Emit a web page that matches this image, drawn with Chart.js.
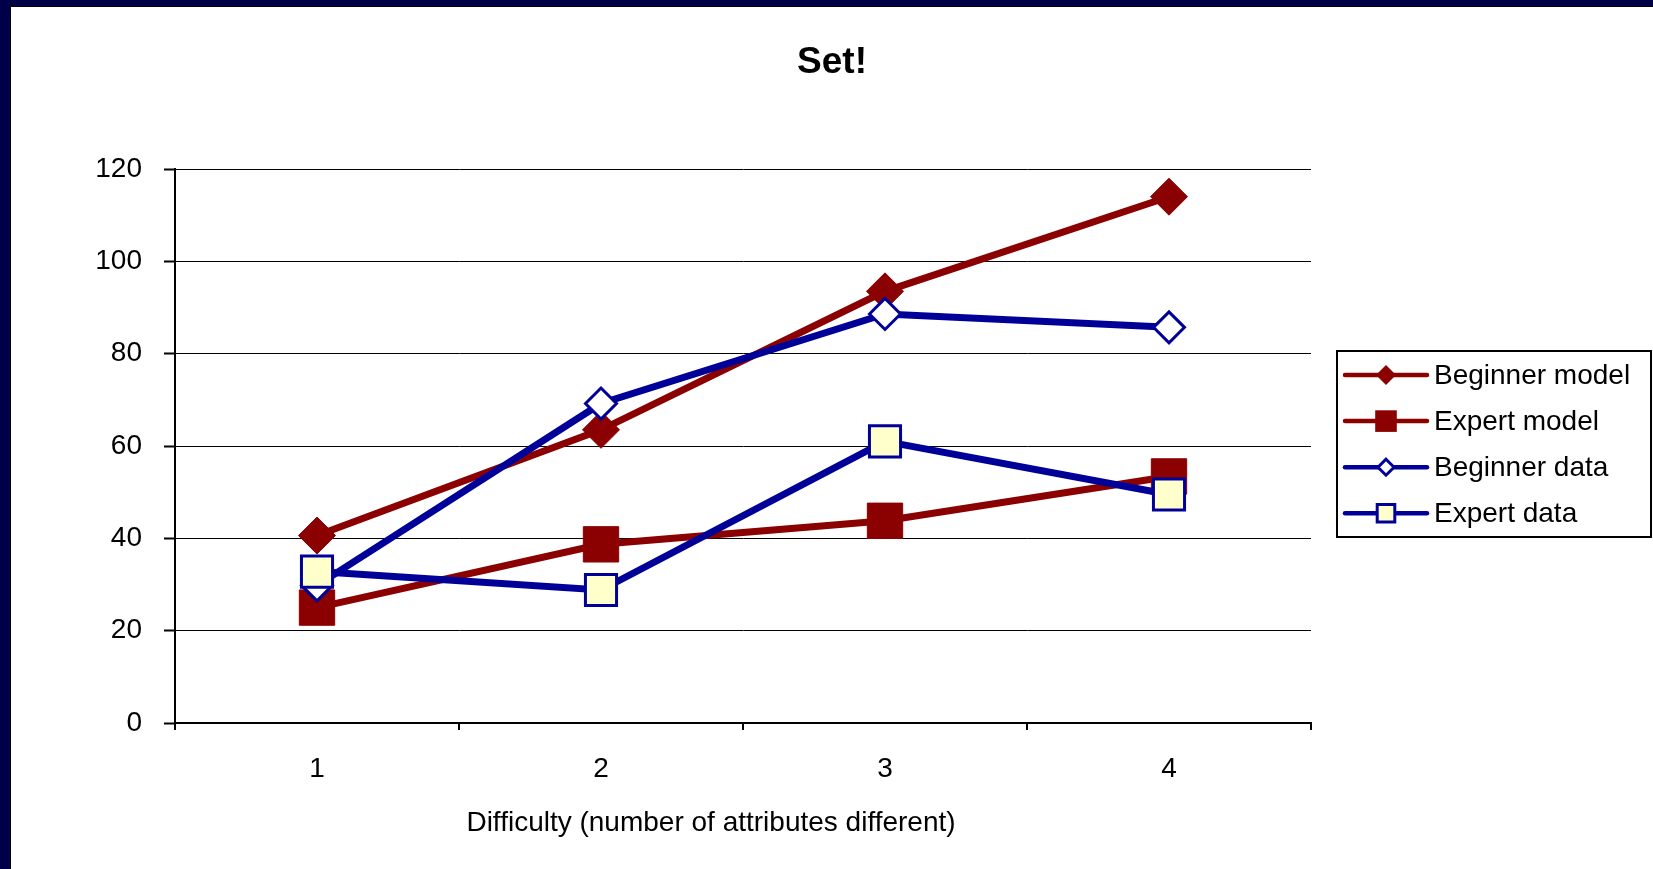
<!DOCTYPE html>
<html>
<head>
<meta charset="utf-8">
<script src="https://cdn.jsdelivr.net/npm/chart.js@4.4.1/dist/chart.umd.min.js"></script>
<style>
  html, body { margin: 0; padding: 0; background: #000048; overflow: hidden; }
  #frame {
    position: absolute; left: 10px; top: 6px;
    width: 1643px; height: 863px;
    border-left: 1px solid #000; border-top: 1px solid #000;
    background: #fff;
  }
  #setChart { display: block; }
</style>
</head>
<body>
<div id="frame"><canvas id="setChart" width="1642" height="862"></canvas></div>
<script>
// values
const categories = ['1', '2', '3', '4'];
const beginnerModel = [40.6, 63.5, 93.5, 114.0];
const expertModel   = [25.0, 38.7, 43.8, 53.4];
const beginnerData  = [29.8, 69.2, 88.6, 85.7];
const expertData    = [32.8, 28.8, 61.0, 49.5];
const yMin = 0, yMax = 120, yStep = 20;
const xTitle = 'Difficulty (number of attributes different)';

const RED = '#8B0000';
const BLUE = '#000099';
const FONT = "'Liberation Sans', Arial, sans-serif";

Chart.defaults.font.family = FONT;
Chart.defaults.color = '#000';

// legend with a frame and the x title (sits a bit left of centre in the original)
const boxLegend = {
    id: 'boxLegend',
    afterDraw(chart) {
        const ctx = chart.ctx;
        const x0 = 1326, y0 = 344, w = 314, h = 186;
        const marks = [
            { shape: 'diamond', half: 10, bw: 0 },
            { shape: 'square', half: 10.8, bw: 0 },
            { shape: 'diamond', half: 8, bw: 3 },
            { shape: 'square', half: 8.8, bw: 3 }
        ];
        ctx.save();

        ctx.fillStyle = '#000';
        ctx.font = '28px ' + FONT;
        ctx.textAlign = 'center';
        ctx.textBaseline = 'middle';
        ctx.fillText(xTitle, 700, 816);

        ctx.lineWidth = 2;
        ctx.strokeStyle = '#000';
        ctx.strokeRect(x0, y0, w, h);

        chart.data.datasets.forEach((ds, i) => {
            const y = y0 + 24 + i * 46.1;
            const m = marks[i];
            ctx.beginPath();
            ctx.lineCap = 'round';
            ctx.lineWidth = 4.5;
            ctx.strokeStyle = ds.borderColor;
            ctx.moveTo(1334, y);
            ctx.lineTo(1416, y);
            ctx.stroke();

            const cx = 1375;
            ctx.beginPath();
            if (m.shape === 'diamond') {
                ctx.moveTo(cx, y - m.half);
                ctx.lineTo(cx + m.half, y);
                ctx.lineTo(cx, y + m.half);
                ctx.lineTo(cx - m.half, y);
                ctx.closePath();
            } else {
                ctx.rect(cx - m.half, y - m.half, m.half * 2, m.half * 2);
            }
            ctx.fillStyle = ds.pointBackgroundColor;
            ctx.fill();
            if (m.bw) {
                ctx.lineWidth = m.bw;
                ctx.lineJoin = 'miter';
                ctx.strokeStyle = ds.pointBorderColor;
                ctx.stroke();
            }

            ctx.fillStyle = '#000';
            ctx.font = '28px ' + FONT;
            ctx.textAlign = 'left';
            ctx.textBaseline = 'middle';
            ctx.fillText(ds.label, 1423, y + 1);
        });
        ctx.restore();
    }
};

const ctx = document.getElementById('setChart').getContext('2d');

const setChart = new Chart(ctx,
{
    type: 'line',
    plugins: [boxLegend],
    data:
    {
        labels: categories,
        datasets:
        [
            {
                label: 'Beginner model',
                data: beginnerModel,
                order: 4,
                borderColor: RED,
                borderWidth: 7,
                pointStyle: 'rectRot',
                pointRadius: 18.5,
                pointHoverRadius: 18.5,
                pointBackgroundColor: RED,
                pointBorderColor: RED,
                pointBorderWidth: 1
            },
            {
                label: 'Expert model',
                data: expertModel,
                order: 3,
                borderColor: RED,
                borderWidth: 7,
                pointStyle: 'rect',
                pointRadius: 25,
                pointHoverRadius: 25,
                pointBackgroundColor: RED,
                pointBorderColor: RED,
                pointBorderWidth: 1
            },
            {
                label: 'Beginner data',
                data: beginnerData,
                order: 2,
                borderColor: BLUE,
                borderWidth: 7,
                pointStyle: 'rectRot',
                pointRadius: 15.5,
                pointHoverRadius: 15.5,
                pointBackgroundColor: '#fff',
                pointBorderColor: BLUE,
                pointBorderWidth: 3
            },
            {
                label: 'Expert data',
                data: expertData,
                order: 1,
                borderColor: BLUE,
                borderWidth: 7,
                pointStyle: 'rect',
                pointRadius: 22,
                pointHoverRadius: 22,
                pointBackgroundColor: '#FFFFCC',
                pointBorderColor: BLUE,
                pointBorderWidth: 3
            }
        ]
    },
    options:
    {
        responsive: false,
        animation: false,
        layout:
        {
            padding: 0
        },
        scales:
        {
            x:
            {
                offset: true,
                grid:
                {
                    offset: true,
                    drawOnChartArea: false,
                    drawTicks: true,
                    tickLength: 7,
                    lineWidth: 2,
                    color: '#000'
                },
                border: { display: true, width: 2, color: '#000' },
                ticks:
                {
                    color: '#000',
                    padding: 22,
                    font: { size: 28 }
                },
                afterFit: (scale) => { scale.height = 146; }
            },
            y:
            {
                min: yMin,
                max: yMax,
                grid:
                {
                    color: '#000',
                    lineWidth: 1,
                    tickWidth: 2,
                    tickLength: 11,
                    drawTicks: true
                },
                border: { display: true, width: 2, color: '#000' },
                ticks:
                {
                    stepSize: yStep,
                    color: '#000',
                    padding: 22,
                    font: { size: 28 }
                },
                afterFit: (scale) => { scale.width = 164; }
            },
            // empty axis on the right that keeps room for the legend box
            side:
            {
                type: 'linear',
                position: 'right',
                min: 0,
                max: 1,
                grid: { display: false },
                border: { display: false },
                ticks: { display: false },
                afterFit: (scale) => { scale.width = 342; }
            }
        },
        plugins:
        {
            legend: { display: false },
            tooltip: { enabled: false },
            title:
            {
                display: true,
                text: 'Set!',
                color: '#000',
                font: { size: 37, weight: 'bold' },
                padding: { top: 34, bottom: 83.6 }
            }
        }
    }
});
</script>
</body>
</html>
